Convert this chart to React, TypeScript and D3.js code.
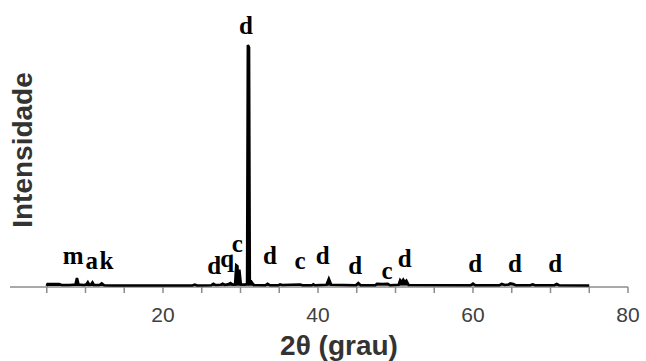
// XRD pattern: intensity vs 2θ with phase labels over the peaks
import * as d3 from "d3"

// [2θ, intensity] pairs (main peak = 100)
const pattern: [number, number][] = [
  [5.0, 0], [5.1, 0.8], [6.6, 0.8], [6.9, 0.4], [8.0, 0.4], [8.7, 0.6], [8.9, 3.3], [9.1, 0.6],
  [9.8, 0.4], [10.1, 0.6], [10.3, 1.6], [10.5, 0.5], [10.7, 0.6], [10.9, 1.5], [11.1, 0.4],
  [11.8, 0.4], [12.1, 1.1], [12.4, 0.3], [13.5, 0.2], [23.8, 0.2], [24.1, 0.6], [24.4, 0.2],
  [26.2, 0.3], [26.5, 0.9], [26.8, 0.4], [27.4, 0.5], [27.7, 1.0], [28.0, 0.5], [28.4, 0.7],
  [28.7, 1.2], [29.0, 0.6], [29.3, 0.6], [29.45, 8.6], [29.6, 8.2], [29.7, 0.8], [29.85, 6.8],
  [30.05, 0.6], [30.6, 0.6], [30.85, 1.0], [30.95, 100], [31.1, 99], [31.2, 1.2], [31.4, 1.8],
  [31.7, 0.4], [33.2, 0.3], [33.5, 0.9], [33.8, 0.3], [34.9, 0.3], [35.1, 0.7], [35.4, 0.4],
  [36.5, 0.5], [37.7, 0.6], [38.0, 0.3], [39.2, 0.3], [39.4, 0.7], [39.6, 0.3], [41.1, 0.5],
  [41.4, 3.0], [41.7, 0.5], [44.9, 0.3], [45.2, 1.2], [45.5, 0.3], [47.4, 0.3], [47.6, 0.9],
  [48.3, 0.8], [49.0, 0.9], [49.3, 0.3], [50.4, 0.5], [50.6, 2.4], [50.8, 1.6], [51.0, 2.6],
  [51.2, 1.6], [51.4, 2.2], [51.7, 0.4], [59.7, 0.3], [60.0, 1.0], [60.3, 0.3], [63.4, 0.3],
  [63.7, 0.9], [64.1, 0.4], [64.6, 0.6], [64.8, 1.1], [65.2, 0.8], [65.5, 0.3], [67.4, 0.3],
  [67.7, 0.7], [68.0, 0.3], [70.5, 0.3], [70.8, 0.8], [71.1, 0.3], [75.0, 0.2],
]

// phase labels: [letter, 2θ position of label centre, label baseline intensity]
const phaseLabels: [string, number, number][] = [
  ["m", 8.4, 9.0], ["a", 10.8, 7.0], ["k", 12.7, 7.0],
  ["d", 26.6, 5.0], ["q", 28.3, 7.8], ["c", 29.6, 14.3], ["d", 30.7, 104.5],
  ["d", 33.8, 9.0], ["c", 37.7, 7.0], ["d", 40.6, 9.0], ["d", 44.8, 5.0],
  ["c", 48.9, 3.0], ["d", 51.2, 8.0], ["d", 60.3, 6.0], ["d", 65.4, 5.8], ["d", 70.6, 6.0],
]

const xTicks = [5, 10, 15, 20, 25, 30, 35, 40, 45, 50, 55, 60, 65, 70, 75, 80]
const xTickLabels = [20, 40, 60, 80]

const W = 646
const H = 361

export default function App() {
  const x = d3.scaleLinear().domain([0, 80]).range([8, 628])
  const y = d3.scaleLinear().domain([0, 100]).range([286, 45])
  const line = d3.line<[number, number]>().x(d => x(d[0])).y(d => y(d[1]))

  return (
    <svg width={W} height={H} style={{ position: "absolute", left: 0, top: 0, background: "#fff" }}
      fontFamily="Liberation Sans, Arial, sans-serif">
      {/* x axis */}
      <line x1={x(0) + 2} x2={x(80)} y1={287} y2={287} stroke="#8c8c8c" strokeWidth={1.5} />
      {xTicks.map(t => (
        <line key={t} x1={x(t)} x2={x(t)} y1={287} y2={293} stroke="#8c8c8c" strokeWidth={1.5} />
      ))}
      {xTickLabels.map(t => (
        <text key={t} x={x(t)} y={322} textAnchor="middle" fontSize={21} fill="#404040">{t}</text>
      ))}

      {/* pattern */}
      <path d={line(pattern) ?? ""} fill="#000" stroke="#000" strokeWidth={2.6} strokeLinejoin="miter" />

      {/* phase labels */}
      {phaseLabels.map(([s, t, v], i) => (
        <text key={i} x={x(t)} y={y(v)} textAnchor="middle" fontFamily="Liberation Serif, Times New Roman, serif"
          fontWeight="bold" fontSize={25} fill="#000">{s}</text>
      ))}

      {/* titles */}
      <text x={339} y={355} textAnchor="middle" fontSize={28} fontWeight="bold" fill="#333">2θ (grau)</text>
      <text transform="translate(32,150) rotate(-90)" textAnchor="middle" fontSize={28} fontWeight="bold" fill="#333">
        Intensidade
      </text>
    </svg>
  )
}
